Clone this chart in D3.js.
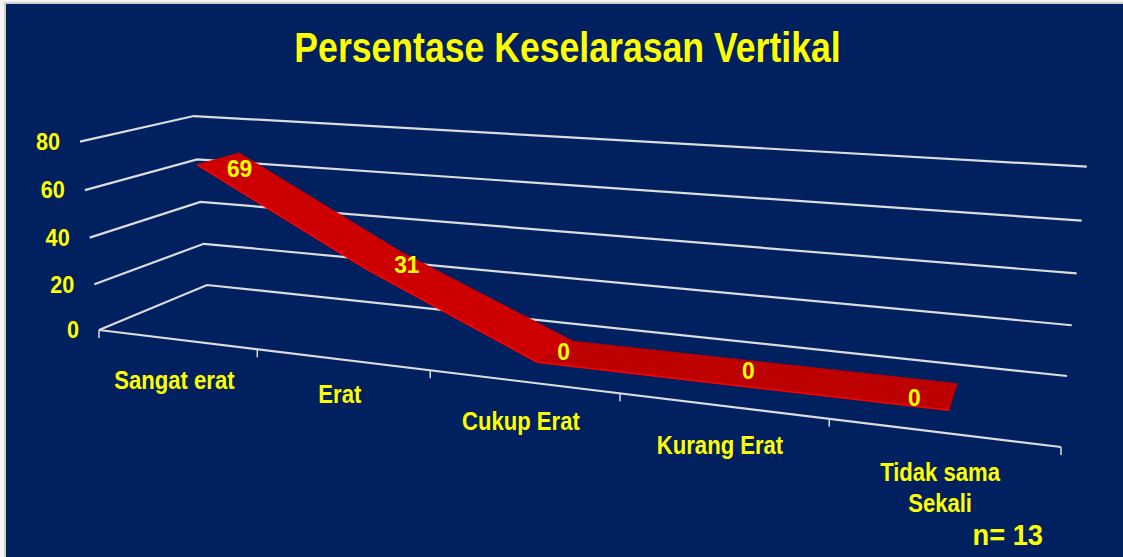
<!DOCTYPE html>
<html>
<head>
<meta charset="utf-8">
<script src="https://cdn.jsdelivr.net/npm/d3@7"></script>
<style>
  html, body { margin: 0; padding: 0; background: #fff; }
  text { font-family: "Liberation Sans", Arial, sans-serif; font-weight: bold; fill: #ffff00; }
</style>
</head>
<body>
<div id="chart"></div>
<script>
var titleText = "Persentase Keselarasan Vertikal";
var noteText = "n= 13";
var categories = ["Sangat erat", "Erat", "Cukup Erat", "Kurang Erat", "Tidak sama|Sekali"];
var values = [69, 31, 0, 0, 0];
var valueTicks = [0, 20, 40, 60, 80];

var w = 1123, h = 557;

var svg = d3.select("#chart").append("svg")
  .attr("width", w)
  .attr("height", h)
  .style("display", "block");

// frame + navy panel
svg.append("rect").attr("width", w).attr("height", h).attr("fill", "#f4f4f4");
svg.append("rect").attr("x", 4).attr("y", 2).attr("width", w - 4).attr("height", h - 2).attr("fill", "#cfcfcf");
svg.append("rect").attr("x", 6).attr("y", 4).attr("width", w - 6).attr("height", h - 4).attr("fill", "#00205f");

// scales into the unit box of the 3d chart
var catScale = d3.scaleLinear().domain([0, categories.length]).range([0, 1]);
var valScale = d3.scaleLinear().domain([0, 80]).range([0, 1]);

// perspective of the box, worked out from its floor corners
var floor = {x0: 99, y0: 330, x1: 1061, y1: 447, x2: 1067, y2: 376, x3: 207, y3: 285};
var vanish = {x: 598, y: 5273, k: -0.0367};
var rise = 3; // right end of the wall sits a bit higher than the plain perspective gives
var persp = (function(q) {
  var dx1 = q.x1 - q.x2, dx2 = q.x3 - q.x2, sx = q.x0 - q.x1 + q.x2 - q.x3;
  var dy1 = q.y1 - q.y2, dy2 = q.y3 - q.y2, sy = q.y0 - q.y1 + q.y2 - q.y3;
  var den = dx1 * dy2 - dx2 * dy1;
  var g = (sx * dy2 - dx2 * sy) / den;
  var h = (dx1 * sy - sx * dy1) / den;
  return {
    a: q.x1 - q.x0 + g * q.x1, b: q.x3 - q.x0 + h * q.x3,
    d: q.y1 - q.y0 + g * q.y1, e: q.y3 - q.y0 + h * q.y3,
    g: g, h: h
  };
})(floor);

// category position, depth 0..1, value -> screen
function project(c, depth, v) {
  var U = catScale(c), V = valScale(v), K = vanish.k * V;
  var W = persp.g * U + persp.h * depth + 1 + K;
  return [
    (persp.a * U + persp.b * depth + floor.x0 + K * vanish.x) / W,
    (persp.d * U + persp.e * depth + floor.y0 + K * vanish.y) / W - rise * U * V
  ];
}

var line = d3.line();
var grid = "#dcdcdc";
var nCat = categories.length;

// gridlines
svg.append("g").selectAll("path")
  .data(valueTicks)
  .enter().append("path")
  .attr("d", function(v) {
    return line([project(0, 0, v), project(0, 1, v), project(nCat, 1, v)]);
  })
  .attr("fill", "none")
  .attr("stroke", grid)
  .attr("stroke-width", 2.2);

// front edge of the floor and its ticks
svg.append("path")
  .attr("d", line([project(0, 0, 0), project(nCat, 0, 0)]))
  .attr("fill", "none")
  .attr("stroke", grid)
  .attr("stroke-width", 2.2);

svg.append("g").selectAll("line")
  .data(d3.range(nCat + 1))
  .enter().append("line")
  .attr("x1", function(c) { return project(c, 0, 0)[0]; })
  .attr("x2", function(c) { return project(c, 0, 0)[0]; })
  .attr("y1", function(c) { return project(c, 0, 0)[1]; })
  .attr("y2", function(c) { return project(c, 0, 0)[1] + 8; })
  .attr("stroke", grid)
  .attr("stroke-width", 1.5);

// ribbon. the front edge bends a little early at the third point
var front = 0.3, back = 0.7;
var frontShift = [0, 0, -0.045, 0, 0];
var ribbon = values.map(function(v, i) { return {c: i + 0.5, v: v, s: frontShift[i]}; });
var segs = d3.pairs(ribbon);

svg.append("g").selectAll("path")
  .data(segs)
  .enter().append("path")
  .attr("d", function(s) {
    return line([
      project(s[0].c + s[0].s, front, s[0].v), project(s[1].c + s[1].s, front, s[1].v),
      project(s[1].c, back, s[1].v), project(s[0].c, back, s[0].v)
    ]) + "Z";
  })
  .attr("fill", function(s) { return s[0].v > s[1].v ? "#cc0000" : "#bd0000"; })
  .attr("stroke", function(s) { return s[0].v > s[1].v ? "#cc0000" : "#bd0000"; })
  .attr("stroke-width", 0.5);

svg.append("path")
  .attr("d", line(ribbon.map(function(d) { return project(d.c + d.s, front, d.v); })))
  .attr("fill", "none")
  .attr("stroke", "#ff0000")
  .attr("stroke-width", 1.5);

// value labels on the ribbon
var labelNudge = [[21, 10], [22, 4], [4, -1], [1, -3], [-39, 1]];
svg.append("g").selectAll("text")
  .data(values)
  .enter().append("text")
  .attr("transform", function(v, i) {
    var p = project(i + 0.5, 0.5, v);
    return "translate(" + (p[0] + labelNudge[i][0]) + "," + (p[1] + labelNudge[i][1]) + ") scale(0.95,1)";
  })
  .attr("dy", "0.36em")
  .attr("text-anchor", "middle")
  .attr("font-size", 24)
  .text(function(v) { return v; });

// value axis labels
svg.append("g").selectAll("text")
  .data(valueTicks)
  .enter().append("text")
  .attr("transform", function(v) {
    var p = project(0, 0, v);
    return "translate(" + (p[0] - 20) + "," + p[1] + ") scale(0.94,1)";
  })
  .attr("dy", "0.36em")
  .attr("text-anchor", "end")
  .attr("font-size", 23)
  .text(function(v) { return v; });

// category labels, | splits a line. the original face is a narrow one, so squeeze it
var catNudge = [2, -5, 0, 0, 0];
var catLabels = svg.append("g").selectAll("text")
  .data(categories)
  .enter().append("text")
  .attr("text-anchor", "middle")
  .attr("font-size", 26)
  .attr("transform", function(d, i) {
    var p = project(i + 0.5, 0, 0);
    return "translate(" + (p[0] - 2) + "," + (p[1] + 48 + catNudge[i]) + ") scale(0.85,1)";
  });

catLabels.selectAll("tspan")
  .data(function(d) { return d.split("|"); })
  .enter().append("tspan")
  .attr("x", 0)
  .attr("dy", function(d, i) { return i ? 31 : 0; })
  .text(function(d) { return d; });

// title and note
svg.append("text")
  .attr("transform", "translate(567.5,62) scale(0.848,1)")
  .attr("text-anchor", "middle")
  .attr("font-size", 42)
  .text(titleText);

svg.append("text")
  .attr("transform", "translate(1043,545) scale(0.94,1)")
  .attr("text-anchor", "end")
  .attr("font-size", 29)
  .text(noteText);
</script>
</body>
</html>
